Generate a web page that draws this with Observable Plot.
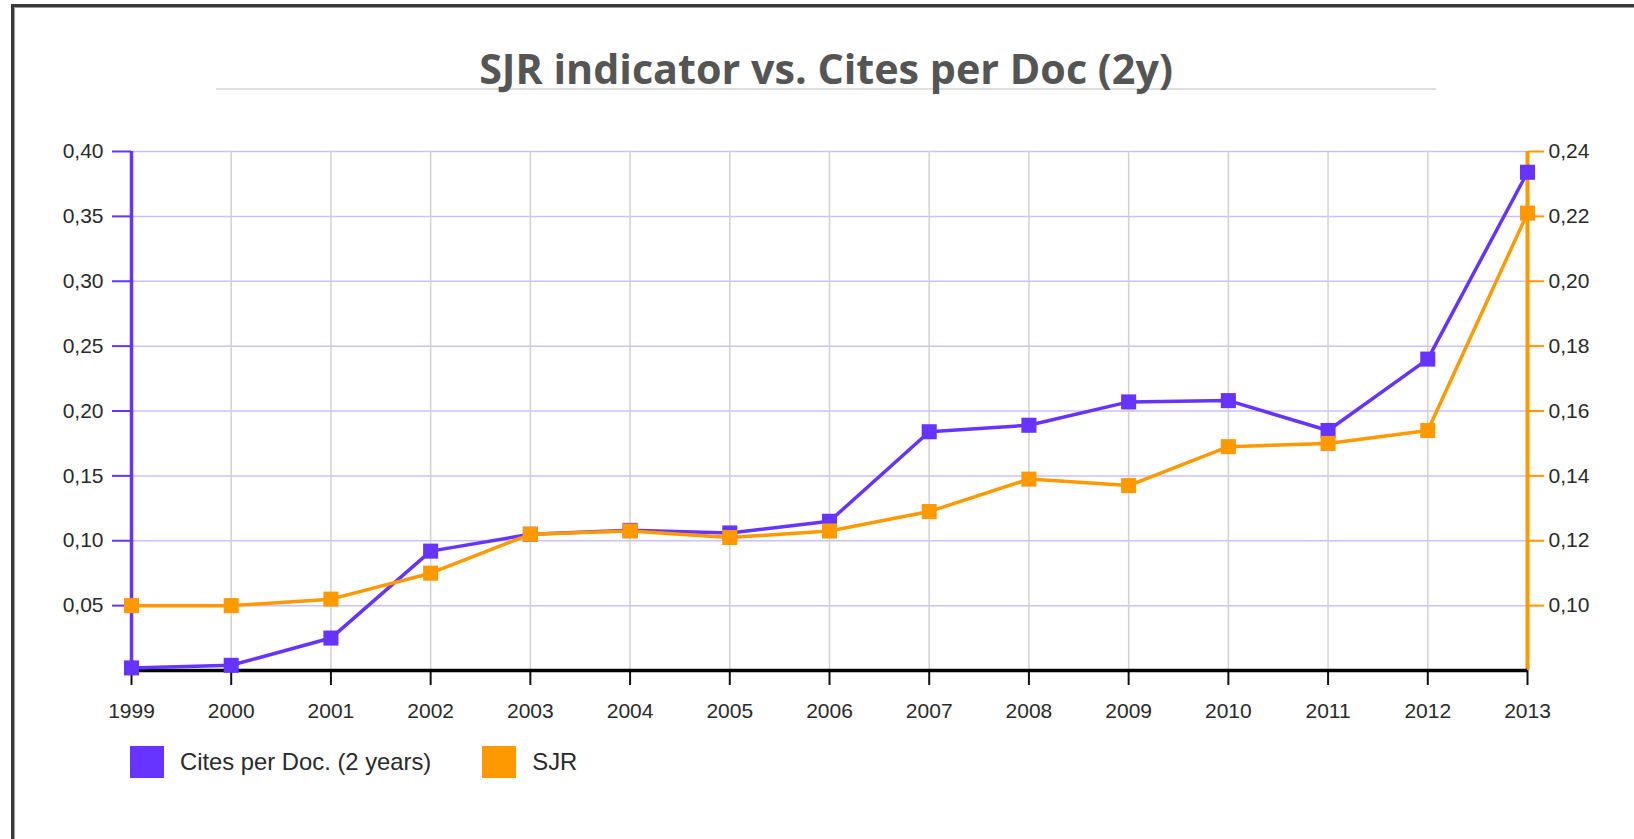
<!DOCTYPE html>
<html>
<head>
<meta charset="utf-8">
<script src="https://cdn.jsdelivr.net/npm/d3@7"></script>
<script src="https://cdn.jsdelivr.net/npm/@observablehq/plot@0.6"></script>
<style>
  html, body { margin: 0; padding: 0; background: #fff; overflow: hidden; width: 1634px; height: 839px; }
  #frame { position: absolute; left: 11px; top: 4px; width: 1700px; height: 900px;
           border-left: 3px solid #3a3a3a; border-top: 3px solid #3a3a3a;
           box-shadow: inset 1px 1px 0 #9a9a9a; }
  #title { position: absolute; left: 216px; width: 1220px; top: 52px; height: 36px;
           text-align: center; font-family: "Open Sans", "DejaVu Sans", sans-serif; font-weight: bold;
           color: #555; line-height: 32px; border-bottom: 2px solid #dedede; }
  #chart { position: absolute; left: 0; top: 100px; }
  #legend { position: absolute; left: 130px; top: 746px; font-family: "Liberation Sans", Arial, sans-serif;
            font-size: 23.8px; color: #2a2a2a; display: flex; align-items: center; }
  .sw { width: 34px; height: 32px; display: inline-block; margin-right: 16px; }
  .item { display: flex; align-items: center; margin-right: 51px; }
</style>
</head>
<body>
<div id="frame"></div>
<div id="title"></div>
<div id="chart"></div>
<div id="legend"></div>
<script>
// ---- data ----
const years = [1999, 2000, 2001, 2002, 2003, 2004, 2005, 2006, 2007, 2008, 2009, 2010, 2011, 2012, 2013];
const citesPerDoc = [0.002, 0.004, 0.025, 0.092, 0.105, 0.108, 0.106, 0.115, 0.184, 0.189, 0.207, 0.208, 0.185, 0.240, 0.384];
const sjrValues = [0.100, 0.100, 0.102, 0.110, 0.122, 0.123, 0.121, 0.123, 0.129, 0.139, 0.137, 0.149, 0.150, 0.154, 0.221];
const leftTicks = [0.05, 0.10, 0.15, 0.20, 0.25, 0.30, 0.35, 0.40];
const rightTicks = [0.10, 0.12, 0.14, 0.16, 0.18, 0.20, 0.22, 0.24];
const seriesNames = ["Cites per Doc. (2 years)", "SJR"];
const titleText = "SJR indicator vs. Cites per Doc (2y)";

const purple = "#6633ff";
const orange = "#ff9900";
const leftDomain = [0, 0.40];
const rightDomain = [0.08, 0.24];

const toLeft = d3.scaleLinear(rightDomain, leftDomain);
const fmt = v => v.toFixed(2).replace(".", ",");
const rows = years.map((year, i) => ({year, cites: citesPerDoc[i], sjr: sjrValues[i]}));

// ---- title (fit to target width) ----
const titleEl = document.getElementById("title");
titleEl.textContent = titleText;
const ctx = document.createElement("canvas").getContext("2d");
ctx.font = 'bold 100px "Open Sans"';
const w100 = ctx.measureText(titleText).width;
titleEl.style.fontSize = (100 * 694 / w100).toFixed(2) + "px";

// ---- chart ----
const chart = Plot.plot({
  width: 1634,
  height: 620,
  marginTop: 51,
  marginBottom: 50,
  marginLeft: 131,
  marginRight: 107,
  style: {fontFamily: '"Liberation Sans", Arial, sans-serif', fontSize: "21px", color: "#222", background: "transparent", overflow: "visible"},
  x: {type: "linear", domain: [years[0], years[years.length - 1]], label: null},
  y: {domain: leftDomain, label: null},
  marks: [
    Plot.gridY(leftTicks, {stroke: "#c9c1ff", strokeOpacity: 1, strokeWidth: 1.5}),
    Plot.gridX(years.slice(1, -1), {stroke: "#d2d2d2", strokeOpacity: 1, strokeWidth: 1.5}),
    Plot.axisX(years, {tickSize: 15, tickPadding: 18, tickFormat: d => String(d), stroke: "#111", strokeWidth: 2, fill: "#2a2a2a", label: null}),
    Plot.axisY(leftTicks, {tickSize: 19, tickPadding: 9, tickFormat: fmt, stroke: purple, strokeWidth: 2, fill: "#2a2a2a", label: null}),
    Plot.axisY(rightTicks, {anchor: "right", y: toLeft, tickFormat: fmt, tickSize: 16, tickPadding: 5, stroke: orange, strokeWidth: 2, fill: "#2a2a2a", label: null}),
    Plot.ruleX([years[0]], {y1: leftDomain[0], y2: leftDomain[1], stroke: purple, strokeWidth: 3.5}),
    Plot.ruleX([years[years.length - 1]], {y1: leftDomain[0], y2: leftDomain[1], stroke: orange, strokeWidth: 4}),
    Plot.ruleY([0], {stroke: "#000", strokeWidth: 3.5}),
    Plot.line(rows, {x: "year", y: "cites", stroke: purple, strokeWidth: 3.5}),
    Plot.dot(rows, {x: "year", y: "cites", symbol: "square", r: 8.5, fill: purple}),
    Plot.line(rows, {x: "year", y: d => toLeft(d.sjr), stroke: orange, strokeWidth: 3.5}),
    Plot.dot(rows, {x: "year", y: d => toLeft(d.sjr), symbol: "square", r: 8.5, fill: orange})
  ]
});
document.getElementById("chart").appendChild(chart);

// ---- legend ----
const legend = document.getElementById("legend");
[purple, orange].forEach((c, i) => {
  const item = document.createElement("div");
  item.className = "item";
  const sw = document.createElement("span");
  sw.className = "sw";
  sw.style.background = c;
  const lab = document.createElement("span");
  lab.textContent = seriesNames[i];
  item.appendChild(sw);
  item.appendChild(lab);
  legend.appendChild(item);
});
</script>
</body>
</html>
